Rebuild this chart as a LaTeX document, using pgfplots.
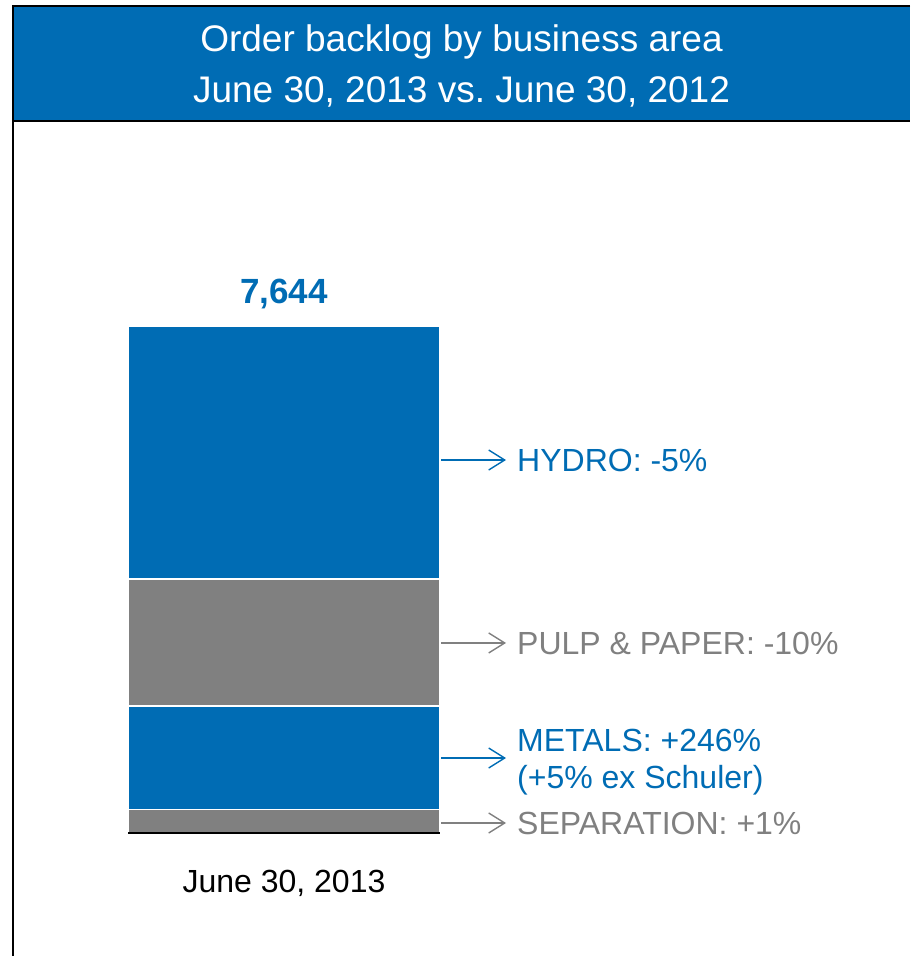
\documentclass[border=0pt]{standalone}
\usepackage{fontspec}
\setmainfont{Liberation Sans}
\usepackage{pgfplots}
\pgfplotsset{compat=1.18}
\usetikzlibrary{arrows.meta}
\definecolor{abl}{RGB}{0,108,180}
\definecolor{agr}{RGB}{128,128,128}
\frenchspacing
\begin{document}
\begin{tikzpicture}[x=1pt,y=1pt]
\useasboundingbox (0,0) rectangle (910,957);
\fill[abl] (13,951) rectangle (910,836);
\draw[black, line width=1.5pt] (910,951) -- (13,951) -- (13,1);
\draw[black, line width=1.5pt] (13,836) -- (910,836);
\node[anchor=base, text=white, font=\fontsize{37}{44}\selectfont, inner sep=0] at (461.5,905.5) {Order backlog by business area};
\node[anchor=base, text=white, font=\fontsize{37}{44}\selectfont, inner sep=0] at (461.5,854.5) {June 30, 2013 vs.\ June 30, 2012};
\begin{axis}[
  at={(128pt,124pt)}, anchor=south west,
  scale only axis, width=312pt, height=506.3pt,
  xmin=-0.5, xmax=0.5, ymin=0, ymax=7644,
  enlargelimits=false,
  ybar stacked, bar width=312pt,
  axis x line=bottom, axis y line=none,
  axis line style={-, black, line width=2.2pt},
  xtick={0}, xticklabels={June 30{,} 2013},
  major tick length=0pt,
  xticklabel style={anchor=base, yshift=-60pt, font=\fontsize{32}{38}\selectfont, text=black},
  axis on top, clip=false,
]
\addplot[fill=agr, draw=white, line width=1.5pt] coordinates {(0,352)};
\addplot[fill=abl, draw=white, line width=1.5pt] coordinates {(0,1566)};
\addplot[fill=agr, draw=white, line width=1.5pt] coordinates {(0,1917)};
\addplot[fill=abl, draw=white, line width=1.5pt] coordinates {(0,3809)};

\node[anchor=base, inner sep=0, text=abl, font=\fontsize{35}{42}\selectfont\bfseries, yshift=22.7pt] at (axis cs:0,7644) {7,644};

\draw[abl, line width=1.4pt, -{Straight Barb[length=16pt,width=20pt]}] (axis cs:0.5,5631) -- ++(66pt,0pt);
\node[anchor=base west, inner sep=0, text=abl, font=\fontsize{32}{38}\selectfont, xshift=77pt, yshift=-11.5pt] at (axis cs:0.5,5631) {HYDRO: -5\%};

\draw[agr, line width=1.4pt, -{Straight Barb[length=16pt,width=20pt]}] (axis cs:0.5,2869) -- ++(66pt,0pt);
\node[anchor=base west, inner sep=0, text=agr, font=\fontsize{32}{38}\selectfont, xshift=77pt, yshift=-11.5pt] at (axis cs:0.5,2869) {PULP \& PAPER: -10\%};

\draw[abl, line width=1.4pt, -{Straight Barb[length=16pt,width=20pt]}] (axis cs:0.5,1132) -- ++(66pt,0pt);
\node[anchor=base west, inner sep=0, text=abl, font=\fontsize{32}{38}\selectfont, xshift=77pt, yshift=7pt] at (axis cs:0.5,1132) {METALS: +246\%};
\node[anchor=base west, inner sep=0, text=abl, font=\fontsize{32}{38}\selectfont, xshift=77pt, yshift=-30pt] at (axis cs:0.5,1132) {(+5\% ex Schuler)};

\draw[agr, line width=1.4pt, -{Straight Barb[length=16pt,width=20pt]}] (axis cs:0.5,151) -- ++(66pt,0pt);
\node[anchor=base west, inner sep=0, text=agr, font=\fontsize{32}{38}\selectfont, xshift=77pt, yshift=-11.5pt] at (axis cs:0.5,151) {SEPARATION: +1\%};
\end{axis}
\end{tikzpicture}
\end{document}
